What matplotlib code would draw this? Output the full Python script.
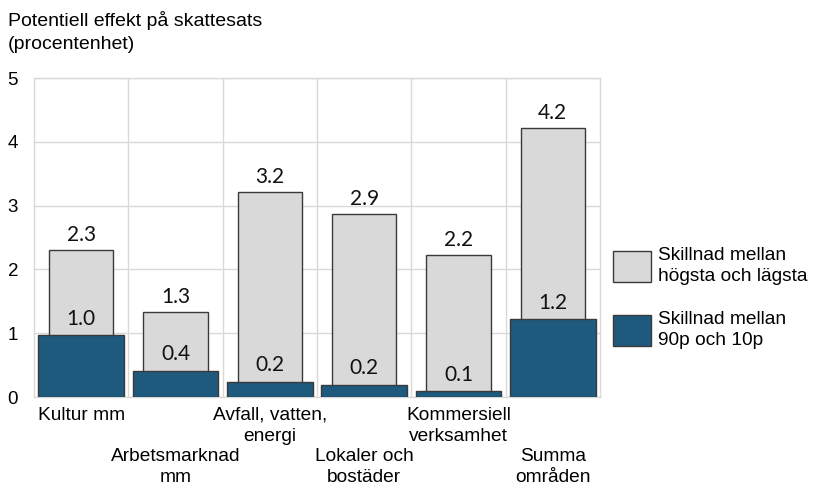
import numpy as np
import matplotlib.pyplot as plt
from matplotlib.patches import Patch

# Data
categories = ["Kultur mm", "Arbetsmarknad\nmm", "Avfall, vatten,\nenergi",
              "Lokaler och\nbostäder", "Kommersiell\nverksamhet", "Summa\nområden"]
high_low = [2.3, 1.33, 3.22, 2.87, 2.23, 4.22]     # högsta och lägsta
p90_p10 = [0.97, 0.41, 0.24, 0.19, 0.09, 1.22]      # 90p och 10p
high_low_labels = ["2.3", "1.3", "3.2", "2.9", "2.2", "4.2"]
p90_labels = ["1.0", "0.4", "0.2", "0.2", "0.1", "1.2"]
legend_labels = ["Skillnad mellan\nhögsta och lägsta", "Skillnad mellan\n90p och 10p"]

grey = "#d9d9d9"
blue = "#1d5a7e"
edge = "#3a3a3a"
gridc = "#d9d9d9"
num_font = "Lato"
txt_font = "Liberation Sans"

fig = plt.figure(figsize=(8.13, 4.86), dpi=100)
ax = fig.add_axes([34/813, 1 - 397/486, (600 - 34)/813, (397 - 78)/486])

x = np.arange(len(categories))
ax.bar(x, high_low, width=0.68, color=grey, edgecolor=edge, linewidth=1.0, zorder=2)
ax.bar(x, p90_p10, width=0.91, color=blue, edgecolor=edge, linewidth=1.0, zorder=3)

for xi, v, s in zip(x, high_low, high_low_labels):
    ax.annotate(s, (xi, v), xytext=(0, 6.5), textcoords="offset points",
                ha="center", va="baseline", fontsize=15, family=num_font, color="#111111")
for xi, v, s in zip(x, p90_p10, p90_labels):
    ax.annotate(s, (xi, v), xytext=(0, 7.5), textcoords="offset points",
                ha="center", va="baseline", fontsize=15, family=num_font, color="#111111")

ax.set_xlim(-0.5, 5.5)
ax.set_ylim(0, 5)
ax.set_yticks(range(6))
ax.set_yticklabels([str(i) for i in range(6)], family=txt_font, fontsize=13.5, ha="left")
ax.tick_params(axis="y", length=0, pad=19)

ax.set_xticks(x)
ax.set_xticklabels(categories, family=txt_font, fontsize=13.8, linespacing=1.3)
ax.tick_params(axis="x", length=0)
for i, t in enumerate(ax.xaxis.get_major_ticks()):
    t.set_pad(7 if i % 2 == 0 else 37)

ax.set_xticks(np.arange(0.5, 5.5, 1), minor=True)
ax.tick_params(axis="x", which="minor", length=0)
ax.grid(axis="y", color=gridc, linewidth=1.0, zorder=0)
ax.grid(axis="x", which="minor", color=gridc, linewidth=1.0, zorder=0)
ax.grid(axis="x", which="major", visible=False)
ax.set_axisbelow(True)
for sp in ax.spines.values():
    sp.set_color(gridc)
    sp.set_linewidth(1.0)

fig.text(8/813, 1 - 11/486, "Potentiell effekt på skattesats\n(procentenhet)",
         ha="left", va="top", fontsize=14, family=txt_font, linespacing=1.45)

handles = [Patch(facecolor=grey, edgecolor=edge, linewidth=1.0),
           Patch(facecolor=blue, edgecolor=edge, linewidth=1.0)]
leg = fig.legend(handles, legend_labels, loc="upper left", bbox_to_anchor=(613/813, 1 - 247/486),
                 frameon=False, prop={"family": txt_font, "size": 13.8},
                 handlelength=1.98, handleheight=2.1, handletextpad=0.35, labelspacing=1.38,
                 borderpad=0, borderaxespad=0)
for t in leg.get_texts():
    t.set_linespacing(1.3)

fig.savefig("out.png", dpi=100)
